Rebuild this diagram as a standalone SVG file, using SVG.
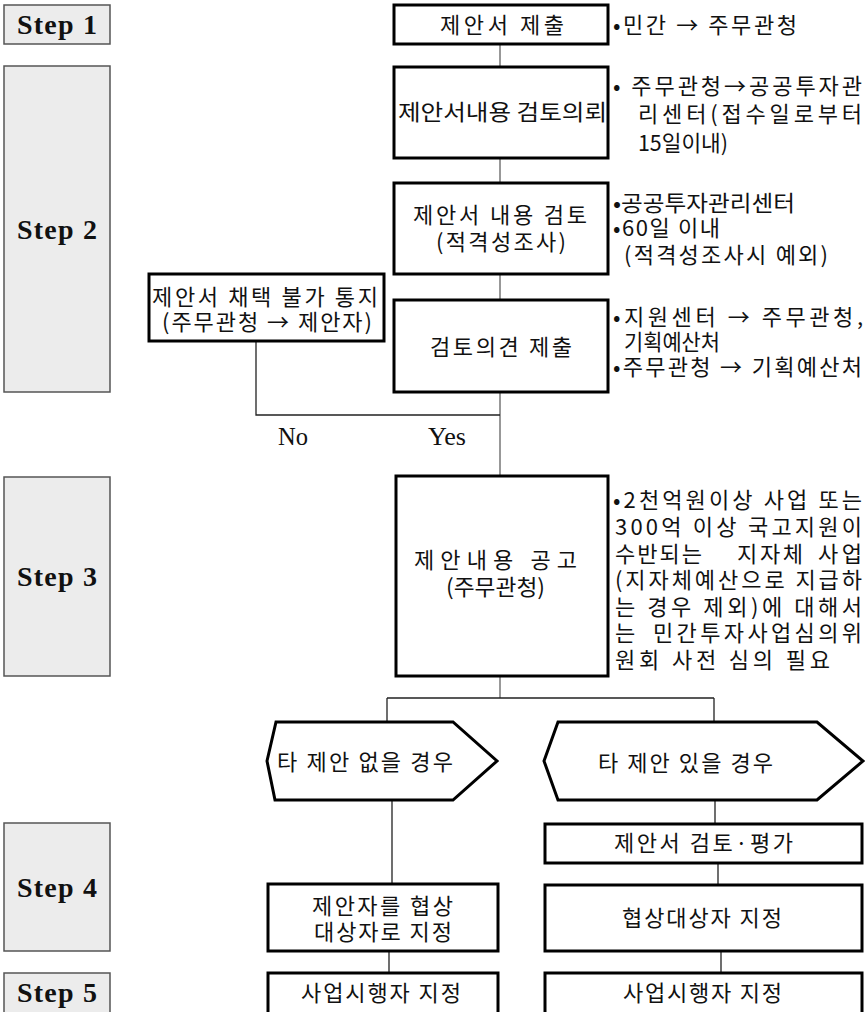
<svg xmlns="http://www.w3.org/2000/svg" width="865" height="1012" viewBox="0 0 865 1012">
<style>
.bg{fill:#ffffff}
.step{fill:#ececec;stroke:#555;stroke-width:1.5}
.box{fill:#ffffff;stroke:#000;stroke-width:3}
.k{font-family:"Noto Sans CJK KR","Noto Sans CJK SC",sans-serif;font-size:22px;fill:#111}
.s{font-family:"Liberation Serif",serif;font-size:28px;font-weight:bold;fill:#111}
.y{font-family:"Liberation Serif",serif;font-size:25px;fill:#111}
.main{stroke:#777;stroke-width:1.5;fill:none}
.ln{stroke:#222;stroke-width:1.3;fill:none}
</style>
<rect class="bg" x="0" y="0" width="865" height="1012"/>

<g id="connectors">
<path class="main" d="M500,44V67 M500,158V183 M500,274V300 M500,392V476"/>
<path class="ln" d="M256,341V415H500"/>
<path class="main" d="M500,676V698"/>
<path class="ln" d="M387,698H714 M387,698V722 M714,698V722"/>
<path class="ln" d="M392,800V884 M389,951V973"/>
<path class="ln" d="M715,800V824 M718,863V885 M721,951V973"/>
<text class="y" x="278" y="445" textLength="30" lengthAdjust="spacingAndGlyphs">No</text>
<text class="y" x="428" y="445" textLength="38" lengthAdjust="spacingAndGlyphs">Yes</text>
</g>

<g id="step1"><rect class="step" x="4" y="5" width="106" height="39"/><text class="s" x="17" y="34" textLength="80">Step 1</text></g>
<g id="step2"><rect class="step" x="4" y="66" width="106" height="326"/><text class="s" x="17" y="239" textLength="80">Step 2</text></g>
<g id="step3"><rect class="step" x="4" y="477" width="106" height="199"/><text class="s" x="17" y="586" textLength="80">Step 3</text></g>
<g id="step4"><rect class="step" x="4" y="823" width="106" height="128"/><text class="s" x="17" y="897" textLength="80">Step 4</text></g>
<g id="step5"><rect class="step" x="4" y="973" width="106" height="50"/><text class="s" x="17" y="1002" textLength="80">Step 5</text></g>

<g id="submit">
<rect class="box" x="394" y="5" width="214" height="39"/>
<text class="k" x="440" y="33" textLength="124">제안서 제출</text>
<text class="k" x="613" y="33" textLength="184">•민간 → 주무관청</text>
</g>

<g id="request">
<rect class="box" x="394" y="67" width="214" height="91"/>
<text class="k" x="398" y="120" textLength="209" lengthAdjust="spacingAndGlyphs">제안서내용 검토의뢰</text>
<text class="k"><tspan x="613" y="94" textLength="249">• 주무관청→공공투자관</tspan><tspan x="638" y="122" textLength="224">리센터(접수일로부터</tspan><tspan x="638" y="151" textLength="90" lengthAdjust="spacingAndGlyphs">15일이내)</tspan></text>
</g>

<g id="review">
<rect class="box" x="394" y="183" width="214" height="91"/>
<text class="k"><tspan x="413" y="223" textLength="174">제안서 내용 검토</tspan><tspan x="436" y="250" textLength="130">(적격성조사)</tspan></text>
<text class="k"><tspan x="613" y="211" textLength="182" lengthAdjust="spacingAndGlyphs">•공공투자관리센터</tspan><tspan x="613" y="236" textLength="107">•60일 이내</tspan><tspan x="624" y="263" textLength="204">(적격성조사시 예외)</tspan></text>
</g>

<g id="reject">
<rect class="box" x="149" y="274" width="235" height="67"/>
<text class="k"><tspan x="152" y="305" textLength="226">제안서 채택 불가 통지</tspan><tspan x="162" y="330" textLength="210">(주무관청 → 제안자)</tspan></text>
</g>

<g id="opinion">
<rect class="box" x="394" y="300" width="214" height="92"/>
<text class="k" x="430" y="355" textLength="142">검토의견 제출</text>
<text class="k"><tspan x="613" y="325" textLength="250">•지원센터 → 주무관청,</tspan><tspan x="624" y="350" textLength="96" lengthAdjust="spacingAndGlyphs">기획예산처</tspan><tspan x="613" y="375" textLength="249">•주무관청 → 기획예산처</tspan></text>
</g>

<g id="notice">
<rect class="box" x="396" y="476" width="212" height="200"/>
<text class="k"><tspan x="414" y="568" textLength="163">제안내용 공고</tspan><tspan x="446" y="595" textLength="99" lengthAdjust="spacingAndGlyphs">(주무관청)</tspan></text>
<text class="k"><tspan x="613" y="508" textLength="249">•2천억원이상 사업 또는</tspan><tspan x="615" y="535" textLength="247">300억 이상 국고지원이</tspan><tspan x="615" y="562" textLength="87">수반되는</tspan><tspan x="737" y="562" textLength="66">지자체</tspan><tspan x="818" y="562" textLength="44">사업</tspan><tspan x="615" y="588" textLength="247">(지자체예산으로 지급하</tspan><tspan x="615" y="615" textLength="247">는 경우 제외)에 대해서</tspan><tspan x="615" y="641">는</tspan><tspan x="653" y="641" textLength="209">민간투자사업심의위</tspan><tspan x="615" y="668" textLength="215">원회 사전 심의 필요</tspan></text>
</g>

<g id="no-other">
<polygon class="box" points="276,722 453,722 497,761 453,800 275,800 267,761"/>
<text class="k" x="277" y="770" textLength="176">타 제안 없을 경우</text>
</g>

<g id="with-other">
<polygon class="box" points="558,722 817,722 863,761 817,800 558,800 544,761"/>
<text class="k" x="598" y="771" textLength="175">타 제안 있을 경우</text>
</g>

<g id="evaluate">
<rect class="box" x="545" y="824" width="317" height="39"/>
<text class="k" x="614" y="851" textLength="179">제안서 검토·평가</text>
</g>

<g id="designate-left">
<rect class="box" x="268" y="884" width="230" height="67"/>
<text class="k"><tspan x="312" y="914" textLength="141">제안자를 협상</tspan><tspan x="314" y="940" textLength="138">대상자로 지정</tspan></text>
</g>

<g id="designate-right">
<rect class="box" x="545" y="885" width="317" height="66"/>
<text class="k" x="622" y="926" textLength="160">협상대상자 지정</text>
</g>

<g id="operator-left">
<rect class="box" x="268" y="973" width="230" height="50"/>
<text class="k" x="301" y="1001" textLength="160">사업시행자 지정</text>
</g>

<g id="operator-right">
<rect class="box" x="545" y="973" width="317" height="50"/>
<text class="k" x="623" y="1001" textLength="159">사업시행자 지정</text>
</g>
</svg>
